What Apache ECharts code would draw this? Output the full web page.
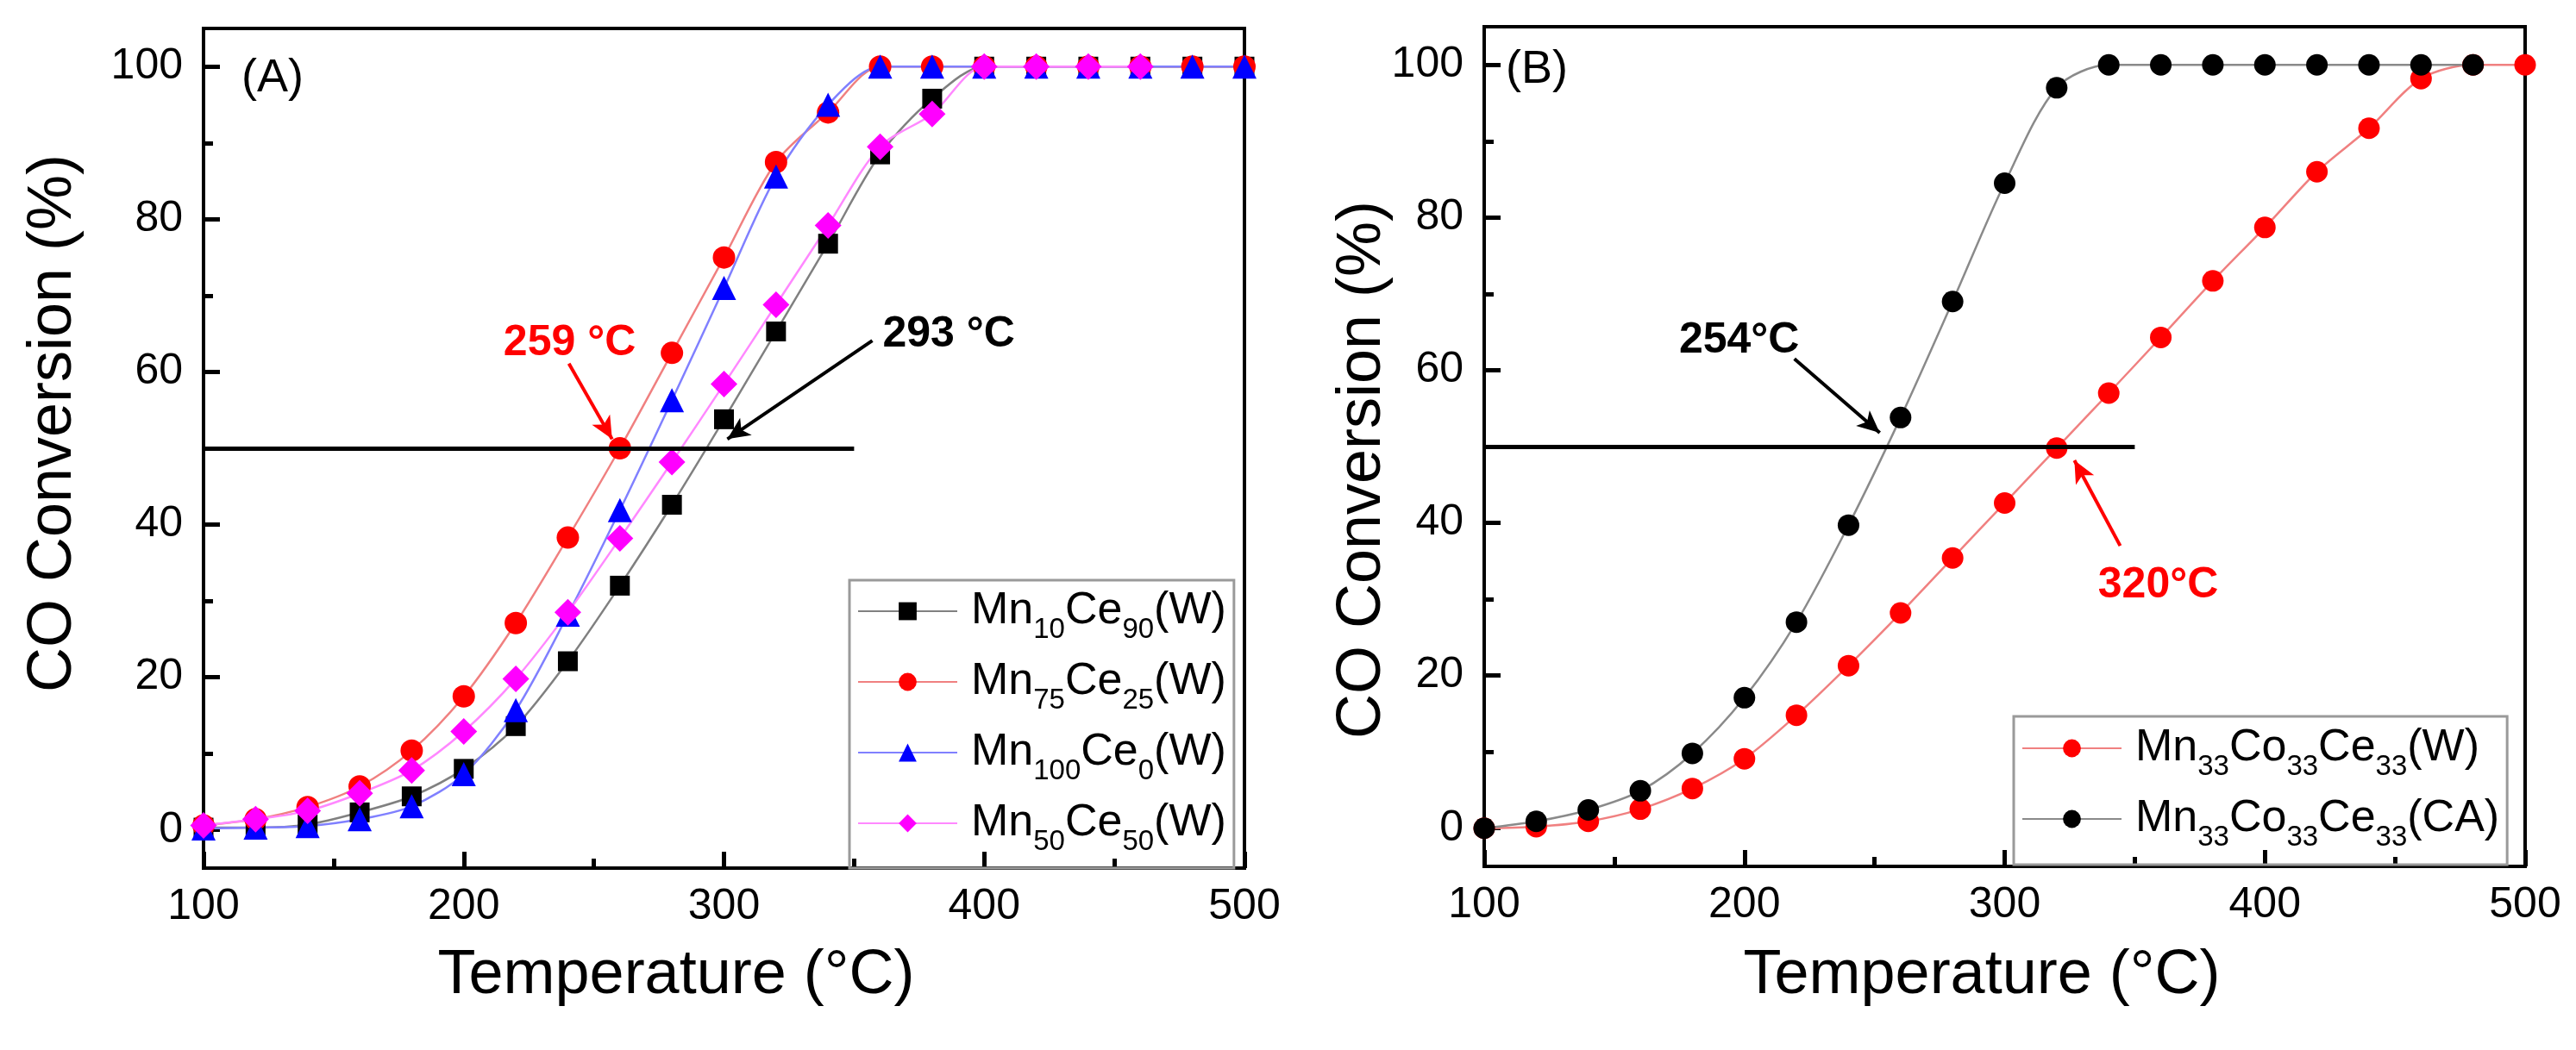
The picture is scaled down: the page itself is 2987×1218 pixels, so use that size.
<!DOCTYPE html>
<html>
<head>
<meta charset="utf-8">
<script src="https://cdn.jsdelivr.net/npm/echarts@6/dist/echarts.min.js"></script>
<style>
  html, body { margin: 0; padding: 0; background: #fff; }
  #chart { width: 2987px; height: 1218px; }
</style>
</head>
<body>
<div id="chart"></div>
<script>
// temperatures (°C), one reading every 20 °C
const temps = [100, 120, 140, 160, 180, 200, 220, 240, 260, 280, 300, 320, 340, 360, 380, 400, 420, 440, 460, 480, 500];

// panel A: CO conversion (%)
const mn10ce90 = [0.3, 0.3, 0.7, 2.3, 4.4, 8.0, 13.6, 22.1, 32.0, 42.6, 53.8, 65.3, 76.8, 88.5, 95.8, 100, 100, 100, 100, 100, 100];
const mn75ce25 = [0.6, 1.4, 3.0, 5.7, 10.4, 17.5, 27.1, 38.3, 50.0, 62.5, 75.0, 87.5, 94.0, 100, 100, 100, 100, 100, 100, 100, 100];
const mn100ce0 = [0.2, 0.3, 0.5, 1.4, 3.1, 7.3, 15.7, 28.2, 41.9, 56.3, 71.0, 85.6, 95.0, 100, 100, 100, 100, 100, 100, 100, 100];
const mn50ce50 = [0.6, 1.4, 2.5, 4.8, 7.8, 12.9, 19.8, 28.5, 38.2, 48.2, 58.4, 68.8, 79.2, 89.5, 93.8, 100, 100, 100, 100];

// panel B: CO conversion (%)
const mccW  = [0, 0.2, 0.9, 2.5, 5.2, 9.1, 14.8, 21.3, 28.2, 35.4, 42.6, 49.8, 57.0, 64.3, 71.7, 78.7, 86.0, 91.7, 98.2, 100, 100];
const mccCA = [0, 0.9, 2.4, 4.9, 9.8, 17.1, 27.0, 39.7, 53.8, 69.0, 84.5, 97.0, 100, 100, 100, 100, 100, 100, 100, 100];

const yMajor = [0, 20, 40, 60, 80, 100];
const yMinor = [10, 30, 50, 70, 90];

const namesA = ['Mn10Ce90(W)', 'Mn75Ce25(W)', 'Mn100Ce0(W)', 'Mn50Ce50(W)'];
const namesB = ['Mn33Co33Ce33(W)', 'Mn33Co33Ce33(CA)'];
const legendText = {
    'Mn10Ce90(W)': 'Mn{s|10}Ce{s|90}(W)',
    'Mn75Ce25(W)': 'Mn{s|75}Ce{s|25}(W)',
    'Mn100Ce0(W)': 'Mn{s|100}Ce{s|0}(W)',
    'Mn50Ce50(W)': 'Mn{s|50}Ce{s|50}(W)',
    'Mn33Co33Ce33(W)': 'Mn{s|33}Co{s|33}Ce{s|33}(W)',
    'Mn33Co33Ce33(CA)': 'Mn{s|33}Co{s|33}Ce{s|33}(CA)'
};

const FONT = '"Liberation Sans", Arial, sans-serif';

function pairs(ys) {
    return ys.map((y, i) => [temps[i], y]);
}

function xAxisFor(grid) {
    return {
        type: 'value', gridIndex: grid, position: 'bottom', min: 100, max: 500, interval: 100,
        axisLine: {show: true, onZero: false, lineStyle: {color: '#000', width: 4}},
        axisTick: {show: true, inside: true, length: 19, lineStyle: {color: '#000', width: 5}},
        minorTick: {show: true, splitNumber: 2, length: 11, lineStyle: {color: '#000', width: 5}},
        axisLabel: {color: '#000', fontSize: 50, fontFamily: FONT, margin: 20},
        splitLine: {show: false}
    };
}

function yAxesFor(grid) {
    return [{
        type: 'value', gridIndex: grid, position: 'left', min: -5, max: 105,
        axisLine: {show: true, onZero: false, lineStyle: {color: '#000', width: 4}},
        axisTick: {show: true, inside: true, length: 19, customValues: yMajor, lineStyle: {color: '#000', width: 5}},
        axisLabel: {color: '#000', fontSize: 50, fontFamily: FONT, margin: 24, customValues: yMajor},
        splitLine: {show: false}
    }, {
        type: 'value', gridIndex: grid, position: 'left', min: -5, max: 105,
        axisLine: {show: false, onZero: false},
        axisTick: {show: true, inside: true, length: 11, customValues: yMinor, lineStyle: {color: '#000', width: 5}},
        axisLabel: {show: false},
        splitLine: {show: false}
    }];
}

function line(name, data, xi, yi, symbol, size, color, lineColor) {
    return {
        name: name, type: 'line', xAxisIndex: xi, yAxisIndex: yi,
        data: pairs(data), symbol: symbol, symbolSize: size,
        smooth: 0.3,
        lineStyle: {color: lineColor, width: 2.5},
        itemStyle: {color: color, borderWidth: 0},
        emphasis: {disabled: true}
    };
}

function arrow(from, to, color) {
    return [
        {coord: from, symbol: 'none', lineStyle: {color: color, width: 4, type: 'solid'}},
        {coord: to, symbol: 'arrow', symbolSize: [18, 26]}
    ];
}

function note(text, at, color) {
    return {
        coord: at, value: text, symbol: 'circle', symbolSize: 1,
        itemStyle: {color: 'rgba(0,0,0,0)'},
        label: {show: true, position: 'inside', formatter: text, color: color,
            fontSize: 50, fontWeight: 'bold', fontFamily: FONT}
    };
}

const legendBase = {
    orient: 'vertical', itemWidth: 115, itemHeight: 26, itemGap: 14,
    borderColor: '#9a9a9a', borderWidth: 3, borderRadius: 0,
    formatter: name => legendText[name],
    textStyle: {
        fontSize: 52, fontFamily: FONT, color: '#000', lineHeight: 60, padding: [0, 0, 0, 11],
        rich: {s: {fontSize: 33, fontFamily: FONT, color: '#000', lineHeight: 20, verticalAlign: 'top', padding: [35, 0, 0, 0]}}
    }
};

const seriesA = [
    line(namesA[0], mn10ce90, 0, 0, 'rect', 23, '#000000', '#808080'),
    line(namesA[1], mn75ce25, 0, 0, 'circle', 26, '#ff0000', '#f08080'),
    line(namesA[2], mn100ce0, 0, 0, 'triangle', 28, '#0000ff', '#8080ff'),
    line(namesA[3], mn50ce50, 0, 0, 'diamond', 31, '#ff00ff', '#ff88ff')
];
seriesA[0].markLine = {
    silent: true, symbol: ['none', 'none'], label: {show: false}, animation: false,
    data: [
        [{coord: [100, 50], symbol: 'none', lineStyle: {color: '#000', width: 5, type: 'solid'}}, {coord: [350, 50], symbol: 'none'}],
        arrow([240.4, 61.1], [257, 51.2], '#ff0000'),
        arrow([357, 64.1], [301.3, 51.2], '#000000')
    ]
};
seriesA[0].markPoint = {
    silent: true, animation: false,
    data: [note('259 °C', [240.7, 63.7], '#ff0000'), note('293 °C', [386.4, 64.9], '#000000')]
};

const seriesB = [
    line(namesB[0], mccW, 1, 2, 'circle', 25, '#ff0000', '#f08080'),
    line(namesB[1], mccCA, 1, 2, 'circle', 25, '#000000', '#8a8a8a')
];
seriesB[0].markLine = {
    silent: true, symbol: ['none', 'none'], label: {show: false}, animation: false,
    data: [
        [{coord: [100, 50], symbol: 'none', lineStyle: {color: '#000', width: 5, type: 'solid'}}, {coord: [350, 50], symbol: 'none'}],
        arrow([219.2, 61.5], [252, 51.8], '#000000'),
        arrow([344.4, 37], [326.8, 48.2], '#ff0000')
    ]
};
seriesB[0].markPoint = {
    silent: true, animation: false,
    data: [note('254°C', [198, 63.9], '#000000'), note('320°C', [359, 31.8], '#ff0000')]
};

function label(text, x, y, size, rotate) {
    return {
        type: 'text', x: x, y: y, rotation: rotate || 0, silent: true,
        style: {text: text, fontSize: size, fontFamily: FONT, fill: '#000', align: 'center', verticalAlign: 'middle'}
    };
}

const chart = echarts.init(document.getElementById('chart'));
chart.setOption({
    animation: false,
    backgroundColor: '#fff',
    grid: [
        {left: 236, top: 33, width: 1207, height: 974, show: true, borderColor: '#000', borderWidth: 4},
        {left: 1721, top: 31, width: 1207, height: 974, show: true, borderColor: '#000', borderWidth: 4}
    ],
    xAxis: [xAxisFor(0), xAxisFor(1)],
    yAxis: yAxesFor(0).concat(yAxesFor(1)),
    legend: [
        Object.assign({}, legendBase, {data: namesA, left: 985, top: 673, padding: [6, 9, 14, 9]}),
        Object.assign({}, legendBase, {data: namesB, left: 2335, top: 831, padding: [7, 9, 15, 9]})
    ],
    series: seriesA.concat(seriesB),
    graphic: [
        label('(A)', 316, 91, 54),
        label('(B)', 1782, 81, 54),
        label('Temperature (°C)', 784, 1132, 72),
        label('Temperature (°C)', 2298, 1132, 72),
        label('CO Conversion (%)', 62, 491, 72, Math.PI / 2),
        label('CO Conversion (%)', 1580, 545, 72, Math.PI / 2)
    ]
});
</script>
</body>
</html>
